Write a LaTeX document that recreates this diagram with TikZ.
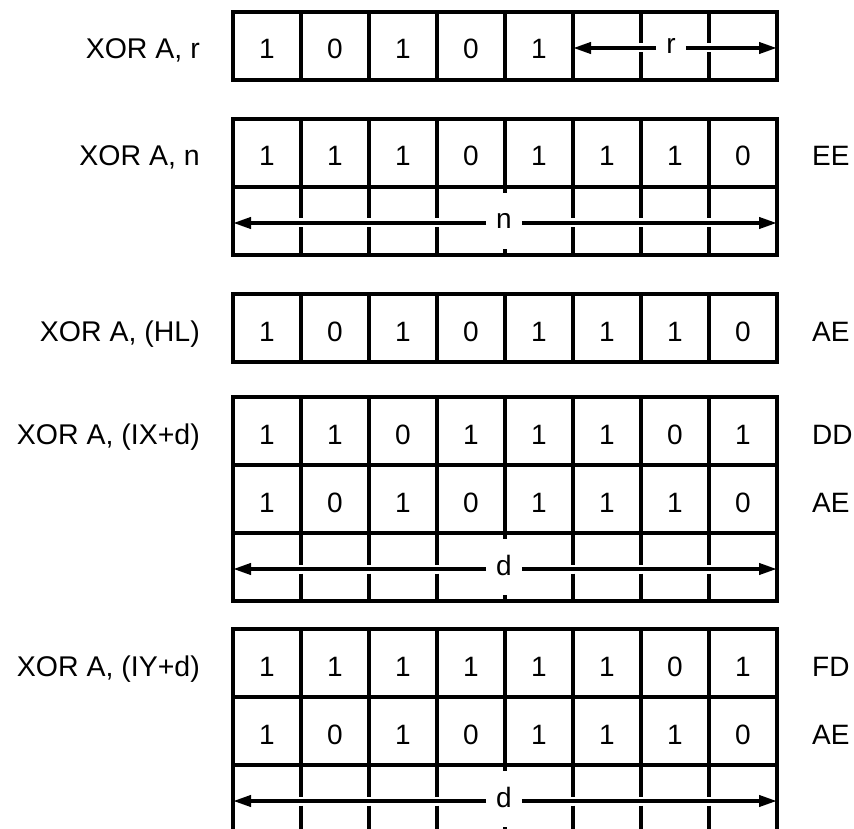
\documentclass[tikz,border=0pt]{standalone}
\usepackage{fontspec}
\setmainfont{Liberation Sans}
\usetikzlibrary{arrows.meta}
\newcommand\bitsrow[3]{\foreach \b [count=\i] in {#3} {\node[bit] (#1\i) at (199+68*\i,#2+47) {\b};}}
\newcommand\fullrow[1]{\foreach \k in {1,...,7} {\draw[grid] (233+68*\k,#1) -- (233+68*\k,#1+68);}}
\newcommand\oprow[1]{%
  \foreach \k in {1,2,3,5,6,7} {\draw[grid] (233+68*\k,#1) -- (233+68*\k,#1+31.5);
     \draw[grid] (233+68*\k,#1+40.5) -- (233+68*\k,#1+68);}%
  \draw[grid] (505,#1) -- (505,#1+6);
  \draw[grid] (505,#1+62) -- (505,#1+68);}
\newcommand\oparrow[3]{%
  \coordinate (#1L) at (233,#2+36);
  \coordinate (#1R) at (777,#2+36);
  \node[spanlab] (#1lab) at (504,#2+42) {#3};
  \draw[tipline] (#1lab.west |- #1L) -- (#1L);
  \draw[tipline] (#1lab.east |- #1R) -- (#1R);}
\begin{document}
\begin{tikzpicture}[x=1pt,y=-1pt,
  grid/.style={line width=4pt},
  txt/.style={font=\fontsize{28}{32}\selectfont, inner sep=0pt},
  bit/.style={txt, anchor=base},
  lab/.style={font=\fontsize{28.5}{32}\selectfont, inner sep=0pt, anchor=base east},
  hex/.style={txt, anchor=base west},
  spanlab/.style={txt, anchor=base, inner xsep=10pt},
  tipline/.style={line width=3.8pt, -{Triangle[length=18pt,width=11pt]}}]
\clip (0,0) rectangle (854,829);
% ---- XOR A, r
\node[lab] (l1) at (200,59) {XOR A, r};
\draw[grid] (233,12) rectangle (777,80);
\foreach \k in {1,...,5} {\draw[grid] (233+68*\k,12) -- (233+68*\k,80);}
\foreach \k in {6,7} {\draw[grid] (233+68*\k,12) -- (233+68*\k,43.5);
   \draw[grid] (233+68*\k,52.5) -- (233+68*\k,80);}
\bitsrow{a}{12}{1,0,1,0,1}
\coordinate (rL) at (573,48);
\coordinate (rR) at (777,48);
\node[spanlab] (rlab) at (671,54) {r};
\draw[tipline] (rlab.west |- rL) -- (rL);
\draw[tipline] (rlab.east |- rR) -- (rR);
% ---- XOR A, n
\node[lab] (l2) at (200,166) {XOR A, n};
\draw[grid] (233,119) rectangle (777,255);
\draw[grid] (233,187) -- (777,187);
\fullrow{119}
\oprow{187}
\bitsrow{b}{119}{1,1,1,0,1,1,1,0}
\node[hex] (h2) at (812,166) {EE};
\oparrow{n}{187}{n}
% ---- XOR A, (HL)
\node[lab] (l3) at (200,341) {XOR A, (HL)};
\draw[grid] (233,294) rectangle (777,362);
\fullrow{294}
\bitsrow{c}{294}{1,0,1,0,1,1,1,0}
\node[hex] (h3) at (812,341) {AE};
% ---- XOR A, (IX+d)
\node[lab] (l4) at (200,444) {XOR A, (IX+d)};
\draw[grid] (233,397) rectangle (777,601);
\draw[grid] (233,465) -- (777,465);
\draw[grid] (233,533) -- (777,533);
\fullrow{397}
\fullrow{465}
\oprow{533}
\bitsrow{d}{397}{1,1,0,1,1,1,0,1}
\bitsrow{e}{465}{1,0,1,0,1,1,1,0}
\node[hex] (h4) at (812,444) {DD};
\node[hex] (h5) at (812,512) {AE};
\oparrow{dx}{533}{d}
% ---- XOR A, (IY+d)
\node[lab] (l5) at (200,676) {XOR A, (IY+d)};
\draw[grid] (233,629) rectangle (777,833);
\draw[grid] (233,697) -- (777,697);
\draw[grid] (233,765) -- (777,765);
\fullrow{629}
\fullrow{697}
\oprow{765}
\bitsrow{f}{629}{1,1,1,1,1,1,0,1}
\bitsrow{g}{697}{1,0,1,0,1,1,1,0}
\node[hex] (h6) at (812,676) {FD};
\node[hex] (h7) at (812,744) {AE};
\oparrow{dy}{765}{d}
\end{tikzpicture}
\end{document}
